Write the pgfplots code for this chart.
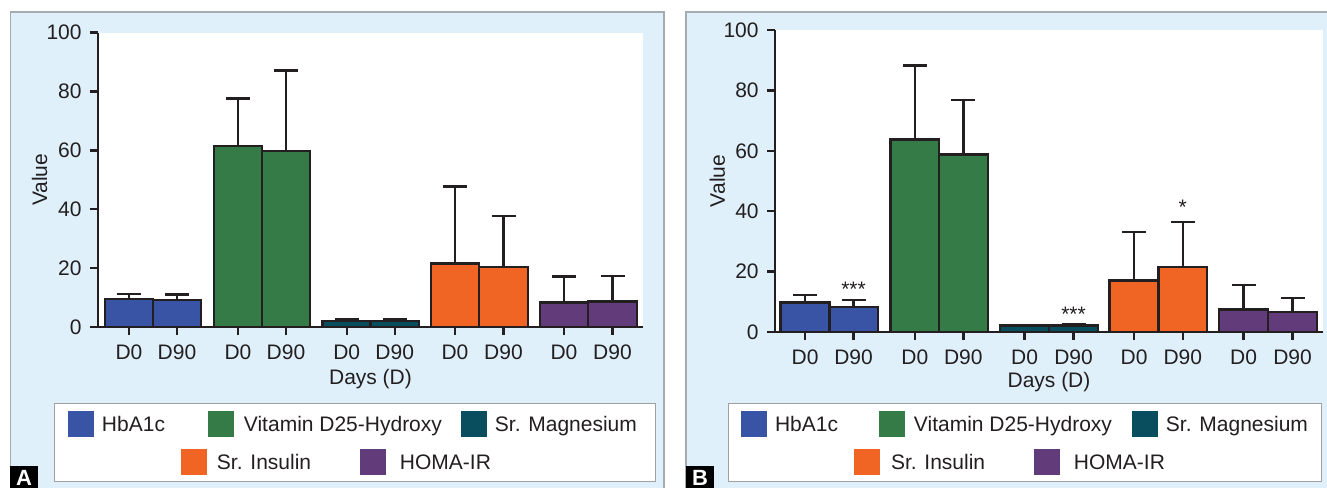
\documentclass[border=0pt]{standalone}
\usepackage{fontspec}
\setmainfont{Liberation Sans}
\usepackage{pgfplots}
\pgfplotsset{compat=1.18}
\definecolor{bgblue}{RGB}{223,240,250}
\definecolor{panelgray}{RGB}{165,172,176}
\definecolor{leggray}{RGB}{160,160,160}
\definecolor{txt}{RGB}{35,31,32}
\definecolor{cHb}{RGB}{57,84,164}
\definecolor{cVit}{RGB}{52,123,72}
\definecolor{cMg}{RGB}{8,78,94}
\definecolor{cIns}{RGB}{240,100,36}
\definecolor{cHoma}{RGB}{98,60,122}
\newcommand{\fs}{\fontsize{10.5bp}{12.6bp}\selectfont}
\newcommand{\lt}[3]{\makebox[#1][l]{\hspace{#2}\raisebox{0pt}[9bp][0pt]{#3}}}

\pgfplotsset{
 panel/.style={
  scale only axis, anchor=south west, clip=false,
  axis x line*=bottom, axis y line*=left,
  axis line style={-, line width=1.2bp, draw=txt},
  ymin=0, ymax=100, ytick={0,20,40,60,80,100},
  tick align=outside, major tick length=4bp,
  tick style={line width=1.2bp, draw=txt},
  tick label style={font=\fs, text=txt},
  yticklabel style={anchor=east, inner sep=0pt, xshift=-4bp},
  xticklabel style={anchor=north, inner sep=0pt, yshift=-4.5bp},
  label style={font=\fs, text=txt},
  /pgf/number format/assume math mode=true,
  axis background/.style={fill=white},
  xlabel={Days (D)}, ylabel={Value},
  xticklabels={D0,D90,D0,D90,D0,D90,D0,D90,D0,D90},
 },
 bars/.style={ybar, bar shift=0pt, draw=txt, line width=1.2bp, fill=#1,
   error bars/.cd, y dir=plus, y explicit,
   error bar style={line width=1.2bp, draw=txt},
   error mark options={rotate=90, line width=1.2bp, draw=txt, mark size=6bp}},
 legax/.style={scale only axis, anchor=south west, hide axis,
   xmin=0, xmax=1, ymin=0, ymax=1,
   legend style={anchor=north west, draw=none, fill=none, inner sep=0pt, outer sep=0pt,
     column sep=0pt, row sep=0pt, font=\fs, text=txt, cells={anchor=west, inner sep=0pt}},
   legend image code/.code={\path[##1,draw=none] (0bp,-6.5bp) rectangle (13bp,6.5bp);},
 },
}

\begin{document}
\begin{tikzpicture}
\useasboundingbox (0,0) rectangle (663.5bp,244bp);
\clip (0,0) rectangle (663.5bp,244bp);
\fill[white] (0,0) rectangle (663.5bp,244bp);
\begin{scope}[x=0.5bp,y=-0.5bp,shift={(0,244bp)}]
 \draw[fill=bgblue, draw=panelgray, line width=0.75bp] (10.5,12) rectangle (664,492);
 \draw[fill=bgblue, draw=panelgray, line width=0.75bp] (686,12) rectangle (1335,492);
 \draw[fill=white, draw=leggray, line width=0.75bp] (54.5,403.5) rectangle (655.5,481.5);
 \draw[fill=white, draw=leggray, line width=0.75bp] (728.5,403.5) rectangle (1321.5,481.5);
\end{scope}

% ---------------- Panel A ----------------
\begin{axis}[panel, at={(49bp,80.5bp)}, width=272.5bp, height=147.15bp,
  xmin=0, xmax=545, bar width=48.5,
  xtick={31,79,140,188,248.7,296.7,357,405.5,466,514.5},
  xlabel style={at={(axis description cs:0.5,-0.1767)}, anchor=center},
  ylabel style={at={(axis description cs:-0.1073,0.5)}, anchor=center}]
\addplot[bars=cHb] coordinates {(31,9.5) +- (0,1.7) (79,9.2) +- (0,1.9)};
\addplot[bars=cVit] coordinates {(140,61.5) +- (0,16.2) (188,59.8) +- (0,27.4)};
\addplot[bars=cMg] coordinates {(248.7,2.1) +- (0,0.5) (296.7,2.1) +- (0,0.5)};
\addplot[bars=cIns] coordinates {(357,21.6) +- (0,26.1) (405.5,20.3) +- (0,17.4)};
\addplot[bars=cHoma] coordinates {(466,8.3) +- (0,8.8) (514.5,8.6) +- (0,8.7)};
\end{axis}
\begin{axis}[legax, at={(49bp,80.5bp)}, width=272.5bp, height=147.15bp,
  legend columns=3, legend style={at={(axis description cs:-0.05505,-0.2820)}}]
\addlegendimage{fill=cHb}\addlegendentry{\lt{53bp}{2bp}{HbA1c}}
\addlegendimage{fill=cVit}\addlegendentry{\lt{109.5bp}{3bp}{Vitamin D25-Hydroxy}}
\addlegendimage{fill=cMg}\addlegendentry{\lt{76bp}{2bp}{Sr. Magnesium}}
\end{axis}
\begin{axis}[legax, at={(49bp,80.5bp)}, width=272.5bp, height=147.15bp,
  legend columns=2, legend style={at={(axis description cs:0.1523,-0.4111)}}]
\addlegendimage{fill=cIns}\addlegendentry{\lt{72.5bp}{3bp}{Sr. Insulin}}
\addlegendimage{fill=cHoma}\addlegendentry{\lt{56bp}{5bp}{HOMA-IR}}
\end{axis}

% ---------------- Panel B ----------------
\begin{axis}[panel, at={(387.5bp,78bp)}, width=274bp, height=151bp,
  xmin=0, xmax=548, bar width=48.8,
  xtick={30,78.5,139.8,188.3,249.5,298.5,359,407.8,468.5,517.5},
  xlabel style={at={(axis description cs:0.5,-0.1646)}, anchor=center},
  ylabel style={at={(axis description cs:-0.105,0.5)}, anchor=center}]
\addplot[bars=cHb] coordinates {(30,9.8) +- (0,2.45) (78.5,8.3) +- (0,2.2)};
\addplot[bars=cVit] coordinates {(139.8,63.7) +- (0,24.5) (188.3,58.8) +- (0,18.1)};
\addplot[bars=cMg] coordinates {(249.5,2.1) +- (0,0.3) (298.5,2.2) +- (0,0.4)};
\addplot[bars=cIns] coordinates {(359,17.1) +- (0,16.0) (407.8,21.5) +- (0,15.0)};
\addplot[bars=cHoma] coordinates {(468.5,7.4) +- (0,8.2) (517.5,6.7) +- (0,4.6)};
\node[font=\fs, text=txt, anchor=base] at (axis cs:78.5,11.8) {***};
\node[font=\fs, text=txt, anchor=base] at (axis cs:298.5,3.6) {***};
\node[font=\fs, text=txt, anchor=base] at (axis cs:407.8,38.8) {*};
\end{axis}
\begin{axis}[legax, at={(387.5bp,78bp)}, width=274bp, height=151bp,
  legend columns=3, legend style={at={(axis description cs:-0.0620,-0.2583)}}]
\addlegendimage{fill=cHb}\addlegendentry{\lt{52bp}{2bp}{HbA1c}}
\addlegendimage{fill=cVit}\addlegendentry{\lt{109.5bp}{2.5bp}{Vitamin D25-Hydroxy}}
\addlegendimage{fill=cMg}\addlegendentry{\lt{76bp}{2bp}{Sr. Magnesium}}
\end{axis}
\begin{axis}[legax, at={(387.5bp,78bp)}, width=274bp, height=151bp,
  legend columns=2, legend style={at={(axis description cs:0.1442,-0.3841)}}]
\addlegendimage{fill=cIns}\addlegendentry{\lt{73bp}{3.5bp}{Sr. Insulin}}
\addlegendimage{fill=cHoma}\addlegendentry{\lt{56bp}{5bp}{HOMA-IR}}
\end{axis}

\begin{scope}[x=0.5bp,y=-0.5bp,shift={(0,244bp)}]
 \fill[black] (10,466) rectangle (38,492);
 \node[text=white, font=\bfseries\fontsize{11bp}{12bp}\selectfont, anchor=base, inner sep=0pt] at (24,485.5) {A};
 \fill[black] (686,466) rectangle (714,492);
 \node[text=white, font=\bfseries\fontsize{11bp}{12bp}\selectfont, anchor=base, inner sep=0pt] at (700,485.5) {B};
\end{scope}
\end{tikzpicture}
\end{document}
